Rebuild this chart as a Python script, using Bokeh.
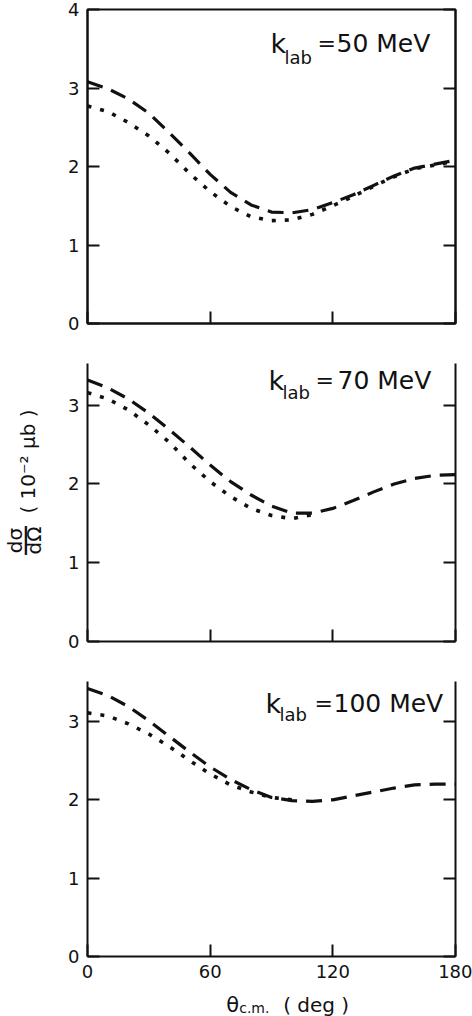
import math
from bokeh.plotting import figure
from bokeh.layouts import column, row
from bokeh.models import Range1d, LinearAxis, FixedTicker, Label
from bokeh.embed import file_html
from bokeh.resources import INLINE

# ---------------- data ----------------
theta = [0, 10, 20, 30, 40, 50, 60, 70, 80, 90, 100, 110, 120, 130, 140, 150, 160, 170, 180]

dash_50 = [3.08, 2.99, 2.86, 2.68, 2.43, 2.17, 1.90, 1.67, 1.51, 1.42, 1.41, 1.45, 1.54, 1.64, 1.76, 1.88, 1.98, 2.03, 2.08]
dot_50 = [2.77, 2.70, 2.56, 2.39, 2.17, 1.91, 1.68, 1.49, 1.36, 1.31, 1.32, 1.39, 1.50, 1.62, 1.75, 1.87, 1.97, 2.02, 2.07]

dash_70 = [3.32, 3.22, 3.08, 2.90, 2.69, 2.47, 2.24, 2.03, 1.86, 1.72, 1.63, 1.63, 1.69, 1.79, 1.90, 2.00, 2.07, 2.11, 2.12]
theta_dot_70 = [0, 10, 20, 30, 40, 50, 60, 70, 80, 90, 100, 110]
dot_70 = [3.16, 3.08, 2.94, 2.75, 2.53, 2.26, 2.03, 1.84, 1.69, 1.60, 1.56, 1.61]

dash_100 = [3.42, 3.33, 3.19, 3.01, 2.81, 2.61, 2.42, 2.26, 2.13, 2.03, 1.99, 1.98, 2.00, 2.05, 2.10, 2.15, 2.19, 2.20, 2.20]
theta_dot_100 = [0, 10, 20, 30, 40, 50, 60, 70, 80, 90, 100]
dot_100 = [3.11, 3.07, 2.97, 2.84, 2.68, 2.50, 2.33, 2.19, 2.10, 2.03, 2.00]

x_ticks = [0, 60, 120, 180]
energies = ["50", "70", "100"]

FONT = "DejaVu Sans"
INK = "#111111"
LEFT_STRIP = 45          # width of the y-label strip
FRAME_LEFT = 87          # page x of the plot frames' left edge
BOTTOM_STRIP = 26        # height of the x-label strip


def make_panel(ymax, yticks, frame_h, top, bottom, boxed, xlabels):
    p = figure(frame_width=368, frame_height=frame_h,
               x_range=Range1d(0, 180), y_range=Range1d(0, ymax),
               output_backend="svg", toolbar_location=None,
               min_border_left=FRAME_LEFT - LEFT_STRIP, min_border_right=17,
               min_border_top=top, min_border_bottom=bottom,
               x_axis_type=None, y_axis_type=None)
    p.xgrid.visible = False
    p.ygrid.visible = False
    p.background_fill_color = "white"
    p.border_fill_color = "white"
    if boxed:
        p.outline_line_color = INK
        p.outline_line_width = 2
    else:
        p.outline_line_color = None

    def style(ax, show_labels):
        ax.axis_label = None
        ax.axis_label_standoff = 0
        ax.axis_line_color = INK
        ax.axis_line_width = 2
        ax.major_tick_line_color = INK
        ax.major_tick_line_width = 2
        ax.major_tick_in = 12
        ax.major_tick_out = 0
        ax.minor_tick_line_color = None
        ax.major_label_text_font = FONT
        if show_labels:
            ax.major_label_text_color = INK
            ax.major_label_text_font_size = "18px"
            ax.major_label_standoff = 8
        else:
            ax.major_label_text_color = None
            ax.major_label_text_font_size = "8px"
            ax.major_label_standoff = 0

    xb = LinearAxis(ticker=FixedTicker(ticks=x_ticks))
    style(xb, xlabels)
    if xlabels:
        xb.major_label_standoff = 8
    p.add_layout(xb, "below")

    yl = LinearAxis(ticker=FixedTicker(ticks=yticks))
    style(yl, True)
    p.add_layout(yl, "left")

    yr = LinearAxis(ticker=FixedTicker(ticks=yticks))
    style(yr, False)
    p.add_layout(yr, "right")
    return p


def energy_label(p, frame_bottom, k_x, mid_y, sub_mid_y, eq_x, num_x, energy):
    def L(text, X, Y, size):
        p.add_layout(Label(x=X - FRAME_LEFT, y=frame_bottom - Y, x_units="screen", y_units="screen",
                           text=text, text_font=FONT, text_font_size=size, text_color=INK,
                           text_baseline="middle", text_align="left"))
    L("k", k_x, mid_y, "27px")
    L("lab", k_x + 14, sub_mid_y, "18px")
    L("=", eq_x, mid_y, "22px")
    L(energy + " MeV", num_x, mid_y, "25px")


# ---------------- panels ----------------
p1 = make_panel(4.0, [0, 1, 2, 3, 4], 314, 9, 20, True, False)
p1.line(theta, dash_50, line_color=INK, line_width=3.2, line_dash="16 9")
p1.line(theta, dot_50, line_color=INK, line_width=3.6, line_dash="4 9")
energy_label(p1, 323, 270, 43, 57, 317, 336, energies[0])

p2 = make_panel(3.53, [0, 1, 2, 3], 278, 20, 20, False, False)
p2.line(theta, dash_70, line_color=INK, line_width=3.2, line_dash="16 9")
p2.line(theta_dot_70, dot_70, line_color=INK, line_width=3.6, line_dash="4 9")
energy_label(p2, 641, 268, 380, 392, 315, 337, energies[1])

p3 = make_panel(3.51, [0, 1, 2, 3], 275, 20, 1016 - 956 - BOTTOM_STRIP, False, True)
p3.line(theta, dash_100, line_color=INK, line_width=3.2, line_dash="16 9")
p3.line(theta_dot_100, dot_100, line_color=INK, line_width=3.6, line_dash="4 9")
energy_label(p3, 956, 265, 703, 714, 314, 333, energies[2])


def strip(w, h, x0, x1, y0, y1):
    s = figure(width=w, height=h, x_range=Range1d(x0, x1), y_range=Range1d(y0, y1),
               output_backend="svg", toolbar_location=None, min_border=0,
               x_axis_type=None, y_axis_type=None)
    s.xgrid.visible = False
    s.ygrid.visible = False
    s.outline_line_color = None
    s.background_fill_color = "white"
    s.border_fill_color = "white"
    return s


# ---------------- y-axis label strip (page pixel coordinates) ----------------
ylab = strip(LEFT_STRIP, 1016, 0, LEFT_STRIP, 1016, 0)

def rot_label(text, X, Y, size):
    ylab.add_layout(Label(x=X, y=Y, text=text, text_font=FONT, text_font_size=size,
                          text_color=INK, angle=math.pi / 2,
                          text_align="center", text_baseline="middle"))

rot_label("dσ", 14, 540, "20px")
rot_label("—", 23, 540, "32px")
rot_label("dΩ", 33, 540, "20px")
rot_label("( 10⁻² μb )", 27, 461, "20px")

# ---------------- x-axis label strip (page pixel coordinates) ----------------
xlab = strip(472 - LEFT_STRIP, BOTTOM_STRIP, LEFT_STRIP, 472, 1016, 1016 - BOTTOM_STRIP)

def xl(text, X, Y, size):
    xlab.add_layout(Label(x=X, y=Y, text=text, text_font=FONT, text_font_size=size,
                          text_color=INK, text_baseline="middle", text_align="left"))

xl("θ", 206, 1004, "21px")
xl("c.m.", 221, 1007, "14px")
xl("( deg )", 272, 1004, "20px")

layout = row(ylab, column(p1, p2, p3, xlab, spacing=0), spacing=0)
open("out.html", "w").write(file_html(layout, INLINE))
